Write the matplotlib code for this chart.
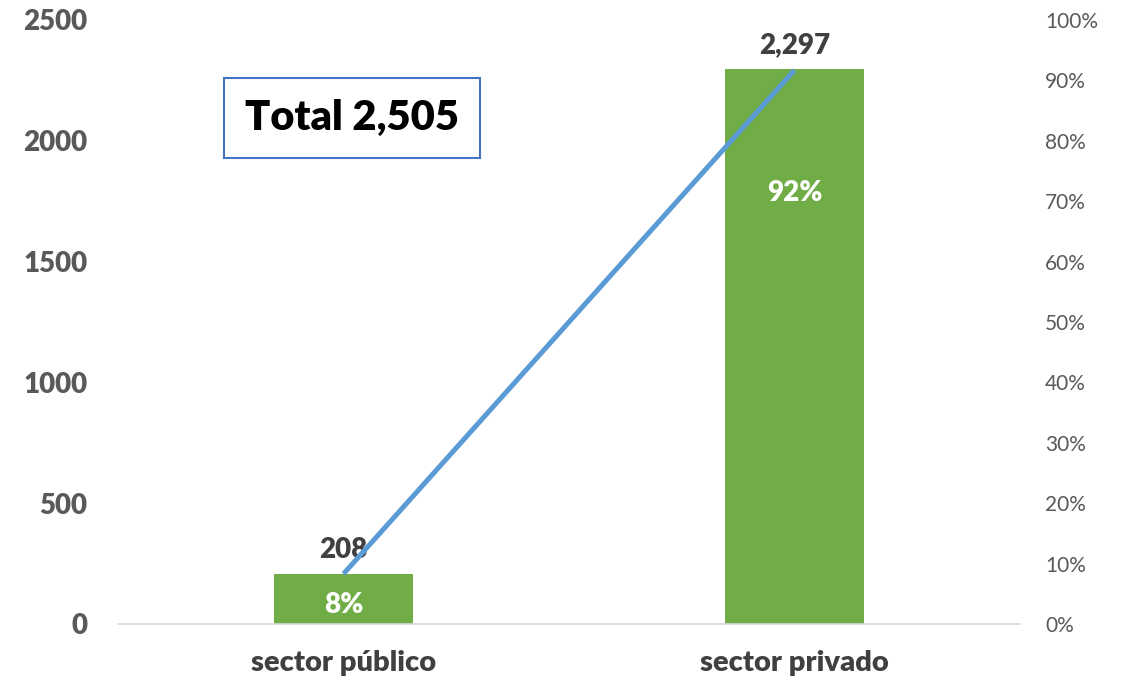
import matplotlib
matplotlib.use("Agg")
import matplotlib.pyplot as plt
from matplotlib.ticker import FuncFormatter

plt.rcParams['font.family'] = ['Lato', 'DejaVu Sans']

# data
categories = ['sector público', 'sector privado']
counts = [208, 2297]
total = 2505
shares = [c / total for c in counts]
share_labels = ['8%', '92%']
left_ticks = [0, 500, 1000, 1500, 2000, 2500]
right_ticks = [0, 0.1, 0.2, 0.3, 0.4, 0.5, 0.6, 0.7, 0.8, 0.9, 1.0]

GREEN = '#70AD47'
BLUE = '#5B9BD5'
DARK = '#404040'
GREY = '#595959'
W = 'heavy'

fig = plt.figure(figsize=(11.25, 6.81), dpi=100)
ax = fig.add_axes([118 / 1125, 57 / 681, 902 / 1125, 604 / 681])
x = list(range(len(categories)))

bars = ax.bar(x, counts, width=0.31, color=GREEN, zorder=2)
ax.set_xlim(-0.5, 1.5)
ax.set_ylim(0, 2500)
ax.set_yticks(left_ticks)
ax.set_yticklabels([str(t) for t in left_ticks], fontsize=20, fontweight=W, color=GREY)
ax.set_xticks(x)
ax.set_xticklabels(categories, fontsize=21, fontweight=W, color=DARK)
ax.tick_params(axis='y', length=0, pad=22)
ax.tick_params(axis='x', length=0, pad=19)
for s in ['top', 'left', 'right']:
    ax.spines[s].set_visible(False)
ax.spines['bottom'].set_color('#D9D9D9')
ax.spines['bottom'].set_linewidth(1.2)

# value labels above bars
for xi, c in zip(x, counts):
    ax.annotate(f'{c:,}', (xi, c), xytext=(0, 8), textcoords='offset points',
                ha='center', va='bottom', fontsize=20, fontweight=W, color=DARK)

# percentage labels inside bars
ax.annotate(share_labels[0], (x[0], 0), xytext=(0, 14), textcoords='offset points',
            ha='center', va='center', fontsize=20, fontweight=W, color='white', zorder=5)
ax.annotate(share_labels[1], (x[1], counts[1]), xytext=(0, -89), textcoords='offset points',
            ha='center', va='center', fontsize=20, fontweight=W, color='white', zorder=5)

# secondary axis with share line
ax2 = ax.twinx()
ax2.plot(x, shares, color=BLUE, lw=3.6, solid_capstyle='butt', zorder=3)
ax2.set_ylim(0, 1)
ax2.set_yticks(right_ticks)
ax2.yaxis.set_major_formatter(FuncFormatter(lambda v, p: f'{v:.0%}'))
ax2.tick_params(axis='y', length=0, pad=18, labelsize=15, labelcolor=GREY)
for s in ['top', 'left', 'right', 'bottom']:
    ax2.spines[s].set_visible(False)

# total box
fig.text(352 / 1125, 1 - 118 / 681, f'Total {total:,}', ha='center', va='center',
         fontsize=30, fontweight=W, color='black',
         bbox=dict(boxstyle='square,pad=0.5', facecolor='white', edgecolor='#4472C4', linewidth=1.5))

fig.savefig('out.png', dpi=100, facecolor='white')
